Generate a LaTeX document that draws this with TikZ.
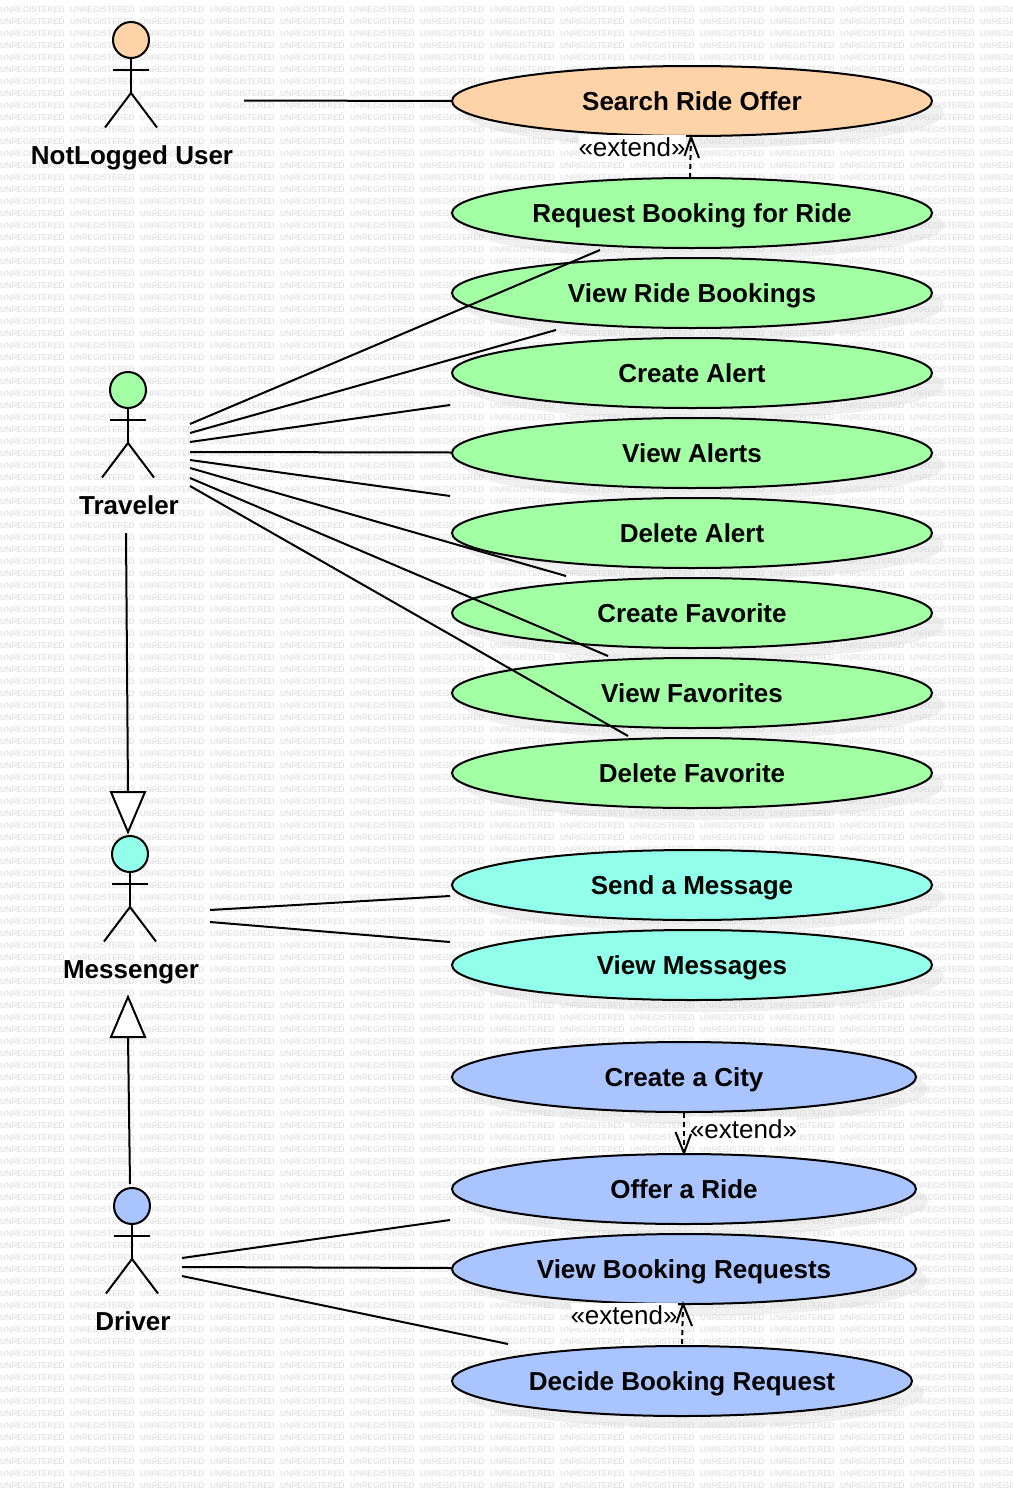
\documentclass[tikz,border=0pt]{standalone}
\usepackage{fontspec}
\setmainfont{Liberation Sans}
\usetikzlibrary{shapes.geometric,calc}
\definecolor{orangeF}{HTML}{FFD3A8}
\definecolor{greenF}{HTML}{A3FFA3}
\definecolor{cyanF}{HTML}{91FFE9}
\definecolor{blueF}{HTML}{A9C4FF}
\definecolor{markC}{HTML}{D8D8D8}
\definecolor{shadowC}{HTML}{F0F0F0}
\tikzset{
  ink/.style={line width=2pt,draw=black},
  usecase/.style={ellipse,ink,inner sep=0pt,minimum height=70pt,text height=18.7pt,text depth=0pt,font=\fontsize{26}{30}\selectfont\bfseries},
  shade/.style={ellipse,draw=none,fill=shadowC,minimum height=70pt},
  headnode/.style={circle,ink,inner sep=0pt,minimum size=36pt},
  actorname/.style={font=\fontsize{26}{30}\selectfont\bfseries,inner sep=0pt,text height=18.7pt,text depth=0pt},
  extendlabel/.style={fill=white,inner sep=0pt,minimum width=107pt,minimum height=25pt,font=\fontsize{26}{30}\selectfont},
  wm/.style={anchor=west,inner sep=0pt,text=markC,font=\fontsize{8.1}{9}\selectfont},
  link/.style={ink},
  dashlink/.style={ink,dash pattern=on 5pt off 4pt},
  barb/.style={ink},
  hollow/.style={ink,fill=white}
}
% #1 name, #2 x, #3 head y, #4 colour, #5 label, #6 label x, #7 label y
\newcommand{\stickman}[7]{%
  \node[headnode,fill=#4] (#1) at (#2,#3) {};
  \coordinate (#1hip) at (#2,#3+53);
  \coordinate (#1armL) at (#2-18,#3+30);
  \coordinate (#1armR) at (#2+18,#3+30);
  \coordinate (#1legL) at (#2-26,#3+87.5);
  \coordinate (#1legR) at (#2+26,#3+87.5);
  \draw[ink] (#1.south) -- (#1hip);
  \draw[ink] (#1armL) -- (#1armR);
  \draw[ink] (#1legL) -- (#1hip) -- (#1legR);
  \node[actorname] (#1name) at (#6,#7) {#5};
}
% #1 name, #2 x, #3 y, #4 width, #5 colour, #6 text
\newcommand{\usecaseitem}[6]{%
  \node[usecase,minimum width=#4pt,fill=#5] (#1) at (#2,#3) {#6};
}
\newcommand{\caseshadow}[3]{%
  \node[shade,minimum width=#3pt] at (#1+12,#2+12) {};
}
\begin{document}
\begin{tikzpicture}[x=1pt,y=-1pt]
\useasboundingbox (0,0) rectangle (1012,1496);
\clip (0,0) rectangle (1012,1496);
\fill[white] (0,0) rectangle (1012,1496);
% ellipse shadows
\foreach \yy in {101,213,293,373,453,533,613,693,773,885,965} {\caseshadow{692}{\yy}{480}}
\foreach \yy in {1077,1189,1269} {\caseshadow{684}{\yy}{464}}
\caseshadow{682}{1381}{460}
% watermark
\foreach \r in {0,...,123} {
  \foreach \c in {0,...,14} {
    \node[wm] (w\r-\c) at (70*\c,9.6+12*\r) {UNREGISTERED};
  }
}
% use cases
\usecaseitem{search}{692}{101}{480}{orangeF}{Search Ride Offer}
\usecaseitem{request}{692}{213}{480}{greenF}{Request Booking for Ride}
\usecaseitem{viewrides}{692}{293}{480}{greenF}{View Ride Bookings}
\usecaseitem{createalert}{692}{373}{480}{greenF}{Create Alert}
\usecaseitem{viewalerts}{692}{453}{480}{greenF}{View Alerts}
\usecaseitem{deletealert}{692}{533}{480}{greenF}{Delete Alert}
\usecaseitem{createfav}{692}{613}{480}{greenF}{Create Favorite}
\usecaseitem{viewfav}{692}{693}{480}{greenF}{View Favorites}
\usecaseitem{deletefav}{692}{773}{480}{greenF}{Delete Favorite}
\usecaseitem{send}{692}{885}{480}{cyanF}{Send a Message}
\usecaseitem{viewmsg}{692}{965}{480}{cyanF}{View Messages}
\usecaseitem{city}{684}{1077}{464}{blueF}{Create a City}
\usecaseitem{offer}{684}{1189}{464}{blueF}{Offer a Ride}
\usecaseitem{viewreq}{684}{1269}{464}{blueF}{View Booking Requests}
\usecaseitem{decide}{682}{1381}{460}{blueF}{Decide Booking Request}
% actors
\stickman{notlogged}{131}{40}{orangeF}{NotLogged User}{132}{155}
\stickman{traveler}{128}{390}{greenF}{Traveler}{129}{505}
\stickman{messenger}{130}{854}{cyanF}{Messenger}{131}{969}
\stickman{driver}{132}{1206}{blueF}{Driver}{133}{1321}
% free ends of the association lines
\coordinate (n0) at (244,100.5);
\foreach \nm/\xa/\ya/\xb/\yb in {
  ta/190/424/600/250, tb/190/433/556/330, tc/190/442/450/405, td/190/452/452/452.5,
  te/190/460/450/496, tf/190/468/566/576, tg/190/478/608/656, th/190/486/628/736,
  ma/210/910/450/896, mb/210/922/450/942,
  da/182/1258/450/1220, db/182/1267/452/1268, dc/182/1276/508/1344} {
  \coordinate (\nm s) at (\xa,\ya);
  \coordinate (\nm e) at (\xb,\yb);
  \draw[link] (\nm s) -- (\nm e);
}
\draw[link] (n0) -- (search.west);
% generalisations
\coordinate (gA) at (126,533);
\coordinate (gAb) at (128,792);
\coordinate (gB) at (130,1184);
\coordinate (gBb) at (128,1037);
\draw[link] (gA) -- (gAb);
\draw[hollow] (111,792) -- (145,792) -- (128,832) -- cycle;
\draw[link] (gB) -- (gBb);
\draw[hollow] (111,1037) -- (145,1037) -- (128,997) -- cycle;
% extend labels
\node[extendlabel] (ext1) at (632,147.5) {«extend»};
\node[extendlabel] (ext2) at (743.5,1129.5) {«extend»};
\node[extendlabel] (ext3) at (624,1315.5) {«extend»};
% extend arrows
\coordinate (e1a) at (690,178); \coordinate (e1b) at (691,137);
\draw[dashlink] (e1a) -- (e1b);
\draw[barb] (684.5,156) -- (e1b) -- (699,158);
\coordinate (e2a) at (684,1113); \coordinate (e2b) at (684,1153);
\draw[dashlink] (e2a) -- (e2b);
\draw[barb] (675.5,1132) -- (e2b) -- (691,1134);
\coordinate (e3a) at (682,1344); \coordinate (e3b) at (683,1304);
\draw[dashlink] (e3a) -- (e3b);
\draw[barb] (676.5,1323) -- (e3b) -- (692,1326);
\end{tikzpicture}
\end{document}
